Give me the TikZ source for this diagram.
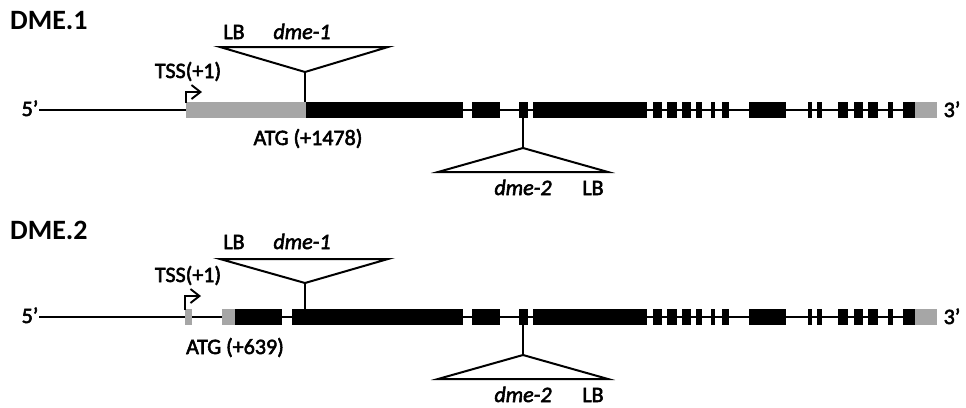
\documentclass[tikz,border=0pt]{standalone}
\usepackage{fontspec}
\setmainfont{Carlito}
\newfontfamily\labelfont[FakeBold=2.5]{Carlito}
\usetikzlibrary{arrows.meta}
\definecolor{utrgray}{RGB}{166,166,166}

\begin{document}
\begin{tikzpicture}[x=1pt,y=-1pt,
  exon/.style={fill=black},
  utr/.style={fill=utrgray},
  intron/.style={line width=1.4pt},
  tdna/.style={line width=2pt,line join=miter,fill=white},
  stem/.style={line width=2pt},
  tss/.style={line width=1.9pt,-{Straight Barb[length=9pt,width=14pt,line width=1.9pt]}},
  lbl/.style={font=\labelfont\fontsize{22}{24}\selectfont,inner sep=0pt,anchor=base},
  ital/.style={lbl,font=\labelfont\fontsize{22}{24}\selectfont\itshape},
  title/.style={font=\fontsize{28}{32}\selectfont\bfseries,inner sep=0pt,anchor=base west}
]
\useasboundingbox (0,0) rectangle (966,407);

% exons shared by both transcripts, downstream of x=463
\def\sharedexons{472/500,519/528,533/647,653/662,667/677,682/691,696/702,711/715,722/729,749/786,808/812,817/822,838/848,854/863,868/878,888/893,903/915}

% ---------------- DME.1 ----------------
\node[title] (t1) at (10,29) {DME.1};
\node[lbl] (p5a) at (30,116) {5’};
\node[lbl] (p3a) at (952,117) {3’};
\draw[intron] (39,110) -- (937,110);
\fill[utr] (186,102) rectangle (306,118);
\fill[exon] (306,102) rectangle (463,118);
\foreach \a/\b in \sharedexons {\fill[exon] (\a,102) rectangle (\b,118);}
\fill[utr] (915,102) rectangle (937,118);
\draw[tss] (186,103) |- (202,92);
\node[lbl] (tssa) at (188,78) {TSS(+1)};
\node[lbl] (atga) at (308,145) {ATG (+1478)};
% dme-1 insertion
\coordinate (a1apex) at (305,72);
\coordinate (a1foot) at (305,102);
\draw[tdna] (220,47) -- (388,47) -- (a1apex) -- cycle;
\draw[stem] (a1apex) -- (a1foot);
\node[lbl] (lba1) at (234,39) {LB};
\node[ital] (dm1a) at (302,39) {dme-1};
% dme-2 insertion
\coordinate (a2apex) at (523,148);
\coordinate (a2foot) at (523,118);
\draw[tdna] (438,172) -- (608,172) -- (a2apex) -- cycle;
\draw[stem] (a2foot) -- (a2apex);
\node[ital] (dm2a) at (523,195) {dme-2};
\node[lbl] (lba2) at (593,195) {LB};

% ---------------- DME.2 ----------------
\node[title] (t2) at (10,239) {DME.2};
\node[lbl] (p5b) at (30,323) {5’};
\node[lbl] (p3b) at (952,324) {3’};
\draw[intron] (39,317) -- (937,317);
\fill[utr] (185,309) rectangle (192,325);
\fill[utr] (222,309) rectangle (235,325);
\fill[exon] (235,309) rectangle (282,325);
\fill[exon] (292,309) rectangle (463,325);
\foreach \a/\b in \sharedexons {\fill[exon] (\a,309) rectangle (\b,325);}
\fill[utr] (915,309) rectangle (937,325);
\draw[tss] (185,310) |- (201,296);
\node[lbl] (tssb) at (188,282) {TSS(+1)};
\node[lbl] (atgb) at (235,354) {ATG (+639)};
% dme-1 insertion
\coordinate (b1apex) at (305,283);
\coordinate (b1foot) at (305,309);
\draw[tdna] (220,259) -- (388,259) -- (b1apex) -- cycle;
\draw[stem] (b1apex) -- (b1foot);
\node[lbl] (lbb1) at (234,249) {LB};
\node[ital] (dm1b) at (302,249) {dme-1};
% dme-2 insertion
\coordinate (b2apex) at (523,355);
\coordinate (b2foot) at (523,325);
\draw[tdna] (438,379) -- (608,379) -- (b2apex) -- cycle;
\draw[stem] (b2foot) -- (b2apex);
\node[ital] (dm2b) at (523,402) {dme-2};
\node[lbl] (lbb2) at (593,402) {LB};
\end{tikzpicture}
\end{document}
